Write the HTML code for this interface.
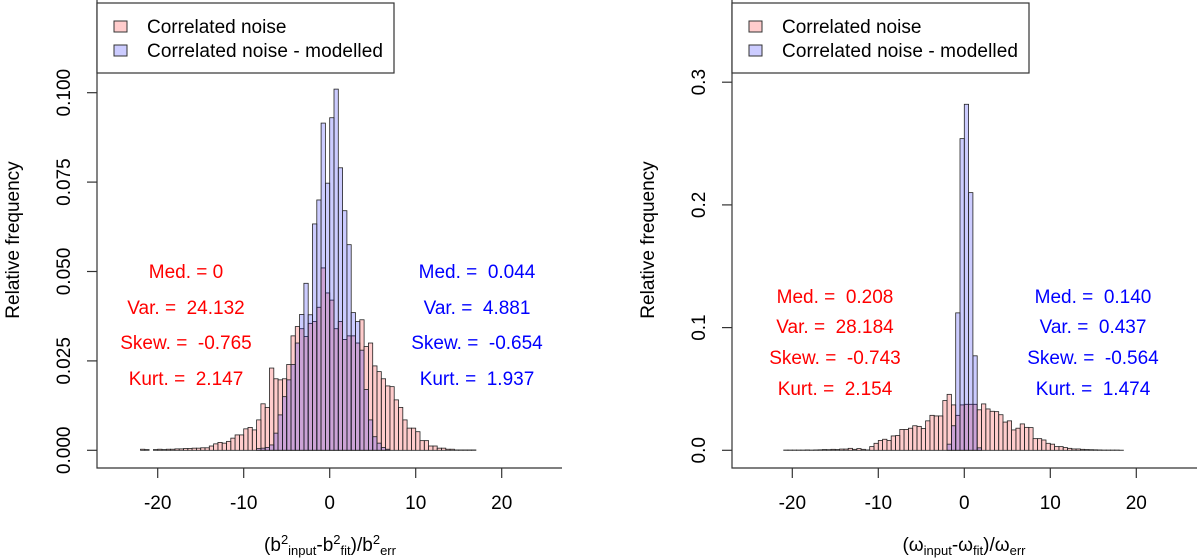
<!DOCTYPE html>
<html><head><meta charset="utf-8"><style>
body{margin:0;background:#fff;}
svg{display:block;font-family:"Liberation Sans",Arial,sans-serif;}
text{white-space:pre;}
</style></head><body>
<svg id="c" width="1200" height="559" viewBox="0 0 1200 559" xmlns="http://www.w3.org/2000/svg"></svg>
<script>
const binWidth = 0.5;
const leftRedStart = -22;
const leftRed = [0.0003,0.0002,0,0.0002,0.0003,0.0002,0.0003,0.0003,0.0004,0.0004,0.0005,0.0005,0.0006,0.0006,0.0007,
 0.0007,0.0012,0.0018,0.0022,0.002,0.0025,0.0034,0.0043,0.0043,0.006,0.0064,0.0057,0.0085,0.013,0.012,0.023,0.020,0.0197,0.020,0.024,0.032,0.0346,0.034,0.0318,0.0355,
 0.036,0.040,0.051,0.044,0.042,0.034,0.036,0.031,0.032,0.032,0.030,0.0365,0.029,0.030,0.0236,0.022,0.020,0.018,0.0178,0.0141,0.012,0.0085,0.0062,0.0062,0.0052,0.0027,0.0027,0.0012,0.0012,0.0006,0.0006,0.0003,0.0003,0.0001,0.0001,0.0001,0.0001,0.0001];
const leftBlueStart = -8.5;
const leftBlue = [0.0005,0.0006,0.0008,0.0015,0.0048,0.0099,0.015,0.0197,0.024,0.030,0.038,0.0467,0.0379,0.0633,0.070,0.0915,0.0747,0.093,0.101,0.079,0.067,0.0575,0.0385,0.036,0.028,0.017,0.0085,0.0038,0.002,0.0008,0.0003];
const rightRedStart = -21;
const rightRed = [0.0002,0.0002,0.0002,0.0002,0.0002,0.0003,0.0002,0.0003,0.0004,0.0006,0.0005,0.0008,0.0006,0.001,
 0.001,0.0016,0.0008,0.0014,0.0008,0.0003,0.003,0.0057,0.008,0.009,0.008,0.0117,0.012,0.017,0.017,0.018,0.020,0.0195,0.0177,0.024,0.0285,0.028,0.028,0.0405,0.0456,0.037,0.0285,0.037,
 0.0375,0.0375,0.0375,0.033,0.0378,0.0337,0.0318,0.0315,0.029,0.023,0.024,0.0166,0.018,0.0215,0.0187,0.0185,0.0095,0.0095,0.0084,0.0057,0.005,0.003,0.003,0.0022,0.0016,0.0011,0.0011,0.0008,0.0006,0.0005,0.0004,0.0003,0.0002,0.0002,0.0002,0.0002,0.0001];
const rightBlueStart = -2;
const rightBlue = [0.005,0.02,0.112,0.254,0.282,0.21,0.077,0.002];
const leftYTicks = [0,0.025,0.05,0.075,0.1];
const leftYLabels = ["0.000","0.025","0.050","0.075","0.100"];
const rightYTicks = [0,0.1,0.2,0.3];
const rightYLabels = ["0.0","0.1","0.2","0.3"];
const xTicks = [-20,-10,0,10,20];

const NS="http://www.w3.org/2000/svg";
const svg=document.getElementById('c');
function el(tag,attrs,parent,text){const e=document.createElementNS(NS,tag);for(const k in attrs)e.setAttribute(k,attrs[k]);if(text!==undefined)e.textContent=text;(parent||svg).appendChild(e);return e;}
const FS=19;
function panel(cfg){
  const g=el('g',{});
  
  
  const xs=v=>cfg.x0+v*cfg.xpu;
  const ys=v=>cfg.y0-v*cfg.ypu;
  function bars(start,vals,fill,nm){
    vals.forEach((v,i)=>{
      const a=start+i*binWidth;
      const r=el('rect',{x:xs(a),y:ys(v),width:binWidth*cfg.xpu,height:Math.max(0,ys(0)-ys(v)),fill:fill,stroke:'#222','stroke-width':0.8},g);
      
      
    });
  }
  bars(cfg.redStart,cfg.red,'rgba(255,0,0,0.2)','bar-correlated-noise');
  bars(cfg.blueStart,cfg.blue,'rgba(0,0,255,0.2)','bar-modelled');
  const ax=el('path',{d:`M${cfg.left},0 L${cfg.left},${cfg.bottom} L${cfg.right},${cfg.bottom}`,fill:'none',stroke:'#333','stroke-width':1.2},g);
  
  
  xTicks.forEach(t=>{
    el('line',{x1:xs(t),x2:xs(t),y1:cfg.bottom,y2:cfg.bottom+10,stroke:'#333','stroke-width':1.2},g);
    const tx=el('text',{x:xs(t),y:cfg.bottom+41,'text-anchor':'middle','font-size':FS},g,String(t));
    
    
  });
  cfg.yt.forEach((t,i)=>{
    el('line',{x1:cfg.left-10,x2:cfg.left,y1:ys(t),y2:ys(t),stroke:'#333','stroke-width':1.2},g);
    const tx=el('text',{x:0,y:0,'text-anchor':'middle','font-size':FS,transform:`translate(${cfg.left-27},${ys(t)}) rotate(-90)`},g,cfg.yl[i]);
    
    
  });
  const yt=el('text',{x:0,y:0,'text-anchor':'middle','font-size':FS,transform:`translate(${cfg.left-78},${240}) rotate(-90)`},g,'Relative frequency');
  
  
  const lg=el('g',{},g);
  
  
  el('rect',{x:cfg.left,y:3,width:cfg.legW,height:70,fill:'#fff',stroke:'#333','stroke-width':1.2},lg);
  el('rect',{x:cfg.left+17,y:21,width:13,height:11,fill:'#ffcccc',stroke:'#333','stroke-width':1},lg);
  el('rect',{x:cfg.left+17,y:45,width:13,height:11,fill:'#ccccff',stroke:'#333','stroke-width':1},lg);
  el('text',{x:cfg.left+50,y:33,'font-size':FS},lg,'Correlated noise');
  el('text',{x:cfg.left+50,y:57,'font-size':FS,textLength:236},lg,'Correlated noise - modelled');
  const sg=el('g',{'font-size':FS,'text-anchor':'middle'},g);
  
  
  cfg.redStats.forEach((s,i)=>el('text',{x:cfg.redX,y:cfg.statY[i],fill:'#ff0000'},sg,s));
  cfg.blueStats.forEach((s,i)=>el('text',{x:cfg.blueX,y:cfg.statY[i],fill:'#0000ff'},sg,s));
  return g;
}

panel({name:'left-panel',x0:329.7,xpu:8.6,y0:450.3,ypu:3576,left:97,right:562,bottom:468,legW:297,
  redStart:leftRedStart,red:leftRed,blueStart:leftBlueStart,blue:leftBlue,yt:leftYTicks,yl:leftYLabels,
  redX:186,blueX:477,statY:[278,314,349,385],
  redStats:['Med. = 0','Var. =  24.132','Skew. =  -0.765','Kurt. =  2.147'],
  blueStats:['Med. =  0.044','Var. =  4.881','Skew. =  -0.654','Kurt. =  1.937']});
panel({name:'right-panel',x0:964.3,xpu:8.6,y0:450.3,ypu:1227,left:732,right:1197,bottom:468,legW:297,
  redStart:rightRedStart,red:rightRed,blueStart:rightBlueStart,blue:rightBlue,yt:rightYTicks,yl:rightYLabels,
  redX:835,blueX:1093,statY:[303,333,364,395],
  redStats:['Med. =  0.208','Var. =  28.184','Skew. =  -0.743','Kurt. =  2.154'],
  blueStats:['Med. =  0.140','Var. =  0.437','Skew. =  -0.564','Kurt. =  1.474']});

const t1=el('text',{x:330,y:551,'text-anchor':'middle','font-size':FS});


t1.innerHTML='(b<tspan dy="-7" font-size="13">2</tspan><tspan dy="11" font-size="13">input</tspan><tspan dy="-4">-b</tspan><tspan dy="-7" font-size="13">2</tspan><tspan dy="11" font-size="13">fit</tspan><tspan dy="-4">)/b</tspan><tspan dy="-7" font-size="13">2</tspan><tspan dy="11" font-size="13">err</tspan>';
const t2=el('text',{x:964,y:551,'text-anchor':'middle','font-size':FS});


t2.innerHTML='(ω<tspan dy="4" font-size="13">input</tspan><tspan dy="-4">-ω</tspan><tspan dy="4" font-size="13">fit</tspan><tspan dy="-4">)/ω</tspan><tspan dy="4" font-size="13">err</tspan>';
</script>
</body></html>
